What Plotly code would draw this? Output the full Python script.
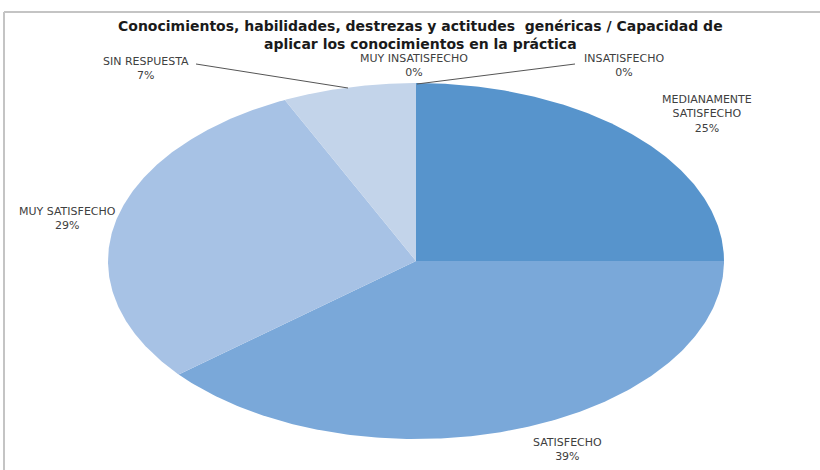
import numpy as np
import plotly.graph_objects as go

# ---- data ----
categories = ["MUY INSATISFECHO", "INSATISFECHO", "MEDIANAMENTE SATISFECHO",
              "SATISFECHO", "MUY SATISFECHO", "SIN RESPUESTA"]
values = [0, 0, 25, 39, 29, 7]
label_text = ["MUY INSATISFECHO<br>0%", "INSATISFECHO<br>0%",
              "MEDIANAMENTE<br>SATISFECHO<br>25%", "SATISFECHO<br>39%",
              "MUY SATISFECHO<br>29%", "SIN RESPUESTA<br>7%"]
colors = ["#C3D4EA", "#5794CC", "#5794CC", "#7AA8D9", "#A7C2E5", "#C3D4EA"]
title = ("<b>Conocimientos, habilidades, destrezas y actitudes  genéricas / Capacidad de<br>"
         "aplicar los conocimientos en la práctica</b>")

# ---- layout parameters (page pixel space) ----
W, H = 820, 470
cx, cy, rx, ry = 416, 261, 308, 178
label_pos = {
    "MUY INSATISFECHO": (414, 65),
    "INSATISFECHO": (624, 65),
    "MEDIANAMENTE SATISFECHO": (707, 114),
    "SATISFECHO": (567, 449),
    "MUY SATISFECHO": (67, 218),
    "SIN RESPUESTA": (146, 68),
}
leaders = {
    "INSATISFECHO": ((575, 64), (417, 84)),
    "SIN RESPUESTA": ((196, 64), (348, 88)),
}
LABEL_FONT = dict(family="DejaVu Sans, Verdana, sans-serif", size=11, color="#404040")
TITLE_FONT = dict(family="DejaVu Sans, Verdana, sans-serif", size=14, color="#1a1a1a")

fig = go.Figure()
total = sum(values)
cum = 0.0
for cat, v, col in zip(categories, values, colors):
    start = cum / total
    cum += v
    end = cum / total
    if v <= 0:
        continue
    th = np.linspace(start, end, 200) * 2 * np.pi
    xs = np.concatenate([[cx], cx + rx * np.sin(th), [cx]])
    ys = np.concatenate([[cy], cy - ry * np.cos(th), [cy]])
    fig.add_trace(go.Scatter(x=xs, y=ys, mode="lines", fill="toself",
                             fillcolor=col, line=dict(width=0, color=col),
                             hoverinfo="text", text=f"{cat}: {v}%",
                             showlegend=False))

for cat, (p0, p1) in leaders.items():
    fig.add_trace(go.Scatter(x=[p0[0], p1[0]], y=[p0[1], p1[1]], mode="lines",
                             line=dict(color="#555555", width=1),
                             hoverinfo="skip", showlegend=False))

for cat, txt in zip(categories, label_text):
    x, y = label_pos[cat]
    fig.add_annotation(x=x, y=y, text=txt, showarrow=False, xref="x", yref="y",
                       font=LABEL_FONT, align="center")

fig.add_annotation(x=420, y=35, xref="x", yref="y", text=title, showarrow=False,
                   font=TITLE_FONT, align="center")

# frame lines
fig.add_shape(type="line", x0=4, x1=W, y0=12, y1=12, xref="x", yref="y",
              line=dict(color="#C4C4C4", width=2))
fig.add_shape(type="line", x0=4, x1=4, y0=12, y1=H, xref="x", yref="y",
              line=dict(color="#C4C4C4", width=2))

fig.update_layout(
    width=W, height=H, margin=dict(l=0, r=0, t=0, b=0),
    paper_bgcolor="white", plot_bgcolor="white",
    xaxis=dict(range=[0, W], visible=False, fixedrange=True),
    yaxis=dict(range=[H, 0], visible=False, fixedrange=True),
)
fig.write_html("out.html", config={"displayModeBar": False},
               post_script="document.body.style.margin='0';document.body.style.overflow='hidden';")
